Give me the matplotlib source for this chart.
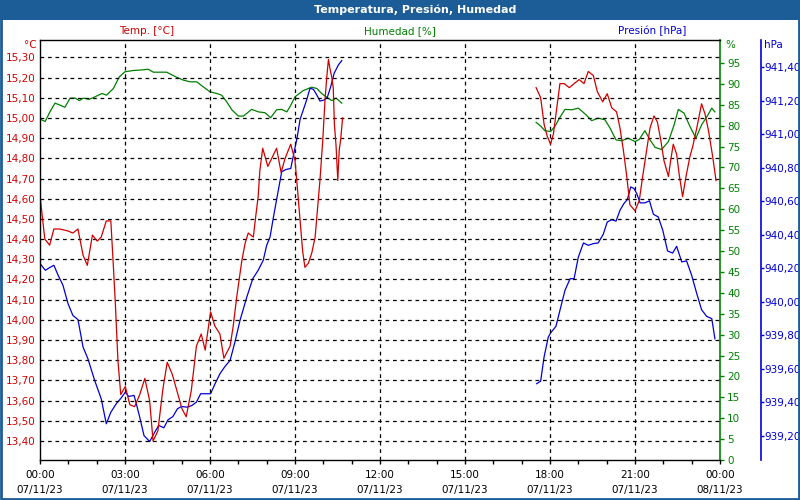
import numpy as np
import matplotlib
matplotlib.use('Agg')
import matplotlib.pyplot as plt
from matplotlib.patches import Rectangle
from matplotlib.ticker import FixedLocator, MultipleLocator, FuncFormatter

# hours since 07/11/23 00:00
temp_t1 = [0.02, 0.17, 0.34, 0.49, 0.70, 0.99, 1.16, 1.34, 1.52, 1.67, 1.85, 2.02, 2.16, 2.34, 2.50,
           2.58, 2.66, 2.75, 2.85, 3.01, 3.17, 3.34, 3.52, 3.70, 3.87, 3.99, 4.16, 4.34, 4.49, 4.67,
           4.87, 5.01, 5.16, 5.34, 5.52, 5.69, 5.83, 6.02, 6.17, 6.35, 6.49, 6.71, 6.82, 6.94, 7.12,
           7.24, 7.35, 7.53, 7.62, 7.70, 7.76, 7.86, 7.94, 8.04, 8.18, 8.35, 8.51, 8.65, 8.85, 9.00,
           9.08, 9.18, 9.27, 9.35, 9.47, 9.59, 9.71, 9.79, 9.88, 9.98, 10.06, 10.12, 10.18, 10.24,
           10.30, 10.35, 10.39, 10.45, 10.51, 10.56, 10.61, 10.68]
temp_v1 = [14.59, 14.40, 14.37, 14.45, 14.45, 14.44, 14.43, 14.45, 14.32, 14.27, 14.42, 14.39, 14.41,
           14.49, 14.49, 14.29, 14.08, 13.80, 13.63, 13.67, 13.58, 13.57, 13.63, 13.71, 13.60, 13.40,
           13.45, 13.66, 13.79, 13.73, 13.63, 13.56, 13.52, 13.65, 13.87, 13.93, 13.85, 14.04, 13.97,
           13.93, 13.81, 13.87, 13.97, 14.11, 14.29, 14.38, 14.43, 14.41, 14.52, 14.61, 14.74, 14.85,
           14.81, 14.76, 14.80, 14.85, 14.73, 14.80, 14.87, 14.79, 14.66, 14.49, 14.34, 14.26, 14.28,
           14.33, 14.41, 14.54, 14.69, 14.89, 15.09, 15.20, 15.29, 15.24, 15.20, 15.15, 14.97, 14.86,
           14.69, 14.84, 14.89, 15.00]
temp_t2 = [17.51, 17.67, 17.79, 17.90, 18.02, 18.12, 18.24, 18.35, 18.50, 18.68, 18.85, 19.03, 19.20,
           19.35, 19.53, 19.67, 19.86, 20.02, 20.18, 20.35, 20.47, 20.59, 20.71, 20.82, 21.00, 21.15,
           21.27, 21.39, 21.53, 21.67, 21.79, 21.91, 22.02, 22.18, 22.26, 22.35, 22.47, 22.56, 22.68,
           22.80, 22.94, 23.04, 23.18, 23.35, 23.47, 23.59, 23.74, 23.86]
temp_v2 = [15.15, 15.10, 14.97, 14.91, 14.87, 14.92, 15.05, 15.17, 15.17, 15.15, 15.17, 15.19, 15.17,
           15.23, 15.21, 15.13, 15.08, 15.12, 15.05, 15.03, 14.95, 14.84, 14.71, 14.57, 14.54, 14.59,
           14.71, 14.82, 14.95, 15.01, 14.98, 14.89, 14.79, 14.71, 14.79, 14.87, 14.82, 14.72, 14.61,
           14.71, 14.81, 14.86, 14.95, 15.07, 15.02, 14.94, 14.81, 14.69]

hum_t1 = [0.06, 0.18, 0.35, 0.53, 0.71, 0.88, 1.06, 1.24, 1.39, 1.53, 1.74, 1.94, 2.18, 2.35, 2.59,
          2.80, 3.00, 3.29, 3.53, 3.82, 4.00, 4.47, 4.82, 5.06, 5.29, 5.53, 5.76, 6.00, 6.24, 6.41,
          6.59, 6.77, 7.00, 7.18, 7.47, 7.71, 7.94, 8.14, 8.35, 8.53, 8.71, 8.82, 9.00, 9.29, 9.59,
          9.77, 9.94, 10.12, 10.30, 10.45, 10.65]
hum_v1 = [81.4, 81.0, 83.3, 85.4, 84.9, 84.4, 86.6, 86.6, 86.0, 86.6, 86.3, 86.9, 87.7, 87.3, 88.9,
          91.7, 92.9, 93.2, 93.3, 93.5, 92.8, 92.8, 91.6, 90.9, 90.5, 90.5, 89.3, 88.1, 87.7, 87.3,
          85.7, 83.8, 82.3, 82.3, 83.9, 83.3, 83.1, 81.9, 83.8, 83.9, 83.3, 84.5, 86.9, 88.4, 89.2,
          88.9, 87.7, 86.8, 86.0, 86.6, 85.4]
hum_t2 = [17.51, 17.67, 17.82, 18.02, 18.18, 18.35, 18.53, 18.77, 19.00, 19.24, 19.47, 19.70, 19.94,
          20.12, 20.33, 20.53, 20.76, 21.00, 21.15, 21.35, 21.53, 21.71, 21.94, 22.18, 22.38, 22.53,
          22.73, 22.94, 23.15, 23.35, 23.55, 23.71, 23.82]
hum_v2 = [80.8, 79.9, 78.8, 78.6, 79.9, 82.0, 83.9, 83.8, 84.2, 82.8, 81.2, 81.8, 81.4, 79.4, 76.6,
          76.4, 77.0, 76.2, 76.7, 78.8, 76.6, 74.8, 74.3, 76.2, 80.2, 83.9, 83.0, 79.8, 77.0, 80.2,
          82.3, 84.2, 83.3]

pres_t1 = [0.02, 0.19, 0.34, 0.49, 0.64, 0.81, 0.99, 1.16, 1.34, 1.52, 1.69, 1.93, 2.16, 2.34, 2.50,
           2.69, 2.87, 3.01, 3.13, 3.32, 3.40, 3.52, 3.67, 3.87, 4.05, 4.19, 4.37, 4.52, 4.69, 4.85,
           4.99, 5.20, 5.36, 5.52, 5.67, 6.02, 6.18, 6.35, 6.53, 6.71, 6.88, 7.06, 7.30, 7.51, 7.70,
           7.88, 8.00, 8.12, 8.24, 8.39, 8.53, 8.68, 8.85, 8.96, 9.08, 9.18, 9.29, 9.41, 9.53, 9.65,
           9.77, 9.88, 10.02, 10.14, 10.26, 10.38, 10.53, 10.65]
pres_v1 = [940.224, 940.188, 940.204, 940.218, 940.158, 940.099, 939.989, 939.919, 939.894, 939.730,
           939.661, 939.531, 939.422, 939.273, 939.342, 939.392, 939.428, 939.461, 939.436, 939.442,
           939.392, 939.312, 939.203, 939.167, 939.223, 939.263, 939.249, 939.297, 939.316, 939.362,
           939.376, 939.372, 939.382, 939.402, 939.452, 939.452, 939.512, 939.571, 939.615, 939.651,
           939.760, 939.890, 940.029, 940.138, 940.188, 940.248, 940.337, 940.387, 940.506, 940.646,
           940.775, 940.789, 940.795, 940.885, 940.984, 941.088, 941.143, 941.203, 941.273, 941.267,
           941.233, 941.197, 941.203, 941.219, 941.282, 941.362, 941.412, 941.438]
pres_t2 = [17.53, 17.67, 17.79, 17.94, 18.02, 18.21, 18.35, 18.53, 18.71, 18.85, 19.00, 19.18, 19.35,
           19.53, 19.70, 19.88, 20.02, 20.18, 20.33, 20.47, 20.61, 20.73, 20.85, 20.96, 21.06, 21.18,
           21.35, 21.51, 21.65, 21.82, 21.98, 22.15, 22.33, 22.47, 22.65, 22.82, 23.00, 23.18, 23.35,
           23.53, 23.71, 23.82]
pres_v2 = [939.512, 939.527, 939.670, 939.790, 939.814, 939.854, 939.949, 940.069, 940.138, 940.138,
           940.267, 940.351, 940.337, 940.347, 940.351, 940.403, 940.476, 940.490, 940.481, 940.546,
           940.586, 940.610, 940.685, 940.676, 940.646, 940.590, 940.590, 940.602, 940.522, 940.506,
           940.427, 940.303, 940.291, 940.331, 940.238, 940.244, 940.158, 940.049, 939.953, 939.913,
           939.900, 939.780]

x_ticks = [0, 3, 6, 9, 12, 15, 18, 21, 24]
x_labels = ['00:00\n07/11/23', '03:00\n07/11/23', '06:00\n07/11/23', '09:00\n07/11/23',
            '12:00\n07/11/23', '15:00\n07/11/23', '18:00\n07/11/23', '21:00\n07/11/23',
            '00:00\n08/11/23']
temp_ticks = [round(13.4 + 0.1 * i, 2) for i in range(20)]
hum_ticks = list(range(0, 100, 5))
pres_ticks = [round(939.2 + 0.2 * i, 2) for i in range(12)]

RED = '#d00000'
GREEN = '#008000'
BLUE = '#0000d8'
FRAME = '#1c5c97'

plt.rcParams['font.family'] = ['DejaVu Sans']
plt.rcParams['font.size'] = 7.5


def join(a, b):
    return np.array(a + [np.nan] + b)


def comma(fmt):
    return FuncFormatter(lambda v, p: (fmt % v).replace('.', ','))


fig = plt.figure(figsize=(8, 5), dpi=100)
fig.patch.set_facecolor('white')

ax = fig.add_axes([40 / 800, 40 / 500, 680 / 800, 420 / 500])
ax2 = ax.twinx()
ax3 = ax.twinx()

# grid and x axis
ax.set_xlim(0, 24)
ax.xaxis.set_major_locator(FixedLocator(x_ticks))
ax.set_xticklabels(x_labels, linespacing=1.6)
ax.xaxis.set_minor_locator(MultipleLocator(1))
ax.tick_params(axis='x', which='both', direction='out', length=3, width=1, pad=4, colors='black')
for v in x_ticks[1:-1]:
    ax.axvline(v, color='black', lw=0.9, ls=(0, (3, 3)), zorder=0)

ax.set_ylim(13.306, 15.386)
ax.yaxis.set_major_locator(FixedLocator(temp_ticks))
ax.yaxis.set_major_formatter(comma('%.2f'))
ax.tick_params(axis='y', length=0, pad=3, labelcolor=RED)
for v in temp_ticks:
    ax.axhline(v, color='black', lw=0.9, ls=(0, (3, 3)), zorder=0)
ax.spines['right'].set_visible(False)
for s in ['left', 'top', 'bottom']:
    ax.spines[s].set_color('black')
    ax.spines[s].set_linewidth(1)

ax2.set_ylim(0, 100.5)
ax2.yaxis.set_major_locator(FixedLocator(hum_ticks))
ax2.tick_params(axis='y', direction='out', length=3, width=1, pad=2, colors=GREEN)
for s in ['left', 'top', 'bottom']:
    ax2.spines[s].set_visible(False)
ax2.spines['right'].set_color(GREEN)
ax2.spines['right'].set_linewidth(1.2)

ax3.set_ylim(939.057, 941.561)
ax3.yaxis.set_major_locator(FixedLocator(pres_ticks))
ax3.yaxis.set_major_formatter(comma('%.2f'))
ax3.tick_params(axis='y', direction='out', length=2, width=1, pad=1, colors=BLUE)
for s in ['left', 'top', 'bottom']:
    ax3.spines[s].set_visible(False)
ax3.spines['right'].set_position(('axes', (760.5 - 40) / 680))
ax3.spines['right'].set_color(BLUE)
ax3.spines['right'].set_linewidth(1.2)

# series
ax2.plot(join(hum_t1, hum_t2), join(hum_v1, hum_v2), color=GREEN, lw=0.9)
ax3.plot(join(pres_t1, pres_t2), join(pres_v1, pres_v2), color=BLUE, lw=0.9)
ax.plot(join(temp_t1, temp_t2), join(temp_v1, temp_v2), color=RED, lw=0.9)
ax.set_zorder(3)
ax.patch.set_visible(False)

# header texts
fig.text(147 / 800, 1 - 31 / 500, 'Temp. [°C]', color=RED, ha='center', va='center')
fig.text(400 / 800, 1 - 31 / 500, 'Humedad [%]', color=GREEN, ha='center', va='center')
fig.text(652 / 800, 1 - 31 / 500, 'Presión [hPa]', color=BLUE, ha='center', va='center')
fig.text(37 / 800, 1 - 45 / 500, '°C', color=RED, ha='right', va='center')
fig.text(725 / 800, 1 - 45 / 500, '%', color=GREEN, ha='left', va='center')
fig.text(764 / 800, 1 - 45 / 500, 'hPa', color=BLUE, ha='left', va='center')

# window frame and title bar
fig.patches.append(Rectangle((0, 480 / 500), 1, 20 / 500, transform=fig.transFigure,
                             facecolor=FRAME, edgecolor='none', zorder=5))
fig.patches.append(Rectangle((1 / 800, 1 / 500), 798 / 800, 498 / 500, transform=fig.transFigure,
                             facecolor='none', edgecolor=FRAME, lw=2, zorder=5))
fig.text(415 / 800, 1 - 10 / 500, 'Temperatura, Presión, Humedad', color='white',
         fontweight='bold', ha='center', va='center', fontsize=8, zorder=6)

fig.savefig('out.png', dpi=100)
